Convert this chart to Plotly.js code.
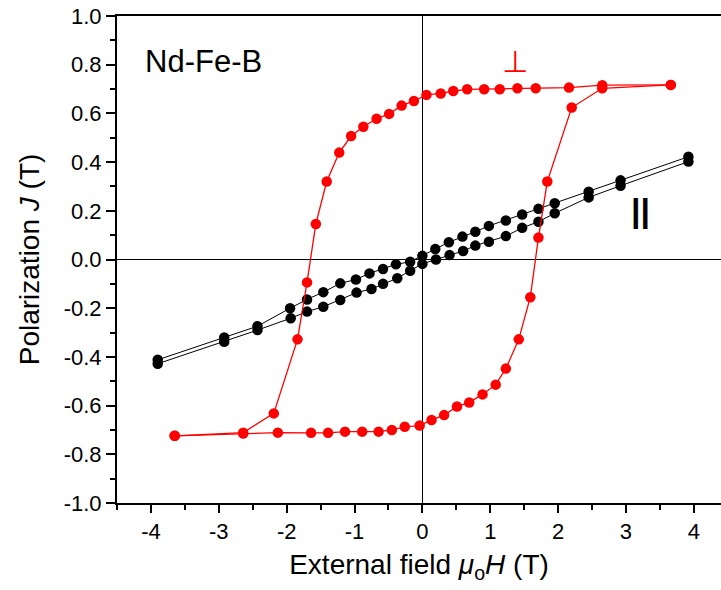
<!DOCTYPE html>
<html>
<head>
<meta charset="utf-8">
<script src="https://cdn.plot.ly/plotly-3.0.1.min.js"></script>
<style>html,body{margin:0;padding:0;background:#fff;}</style>
</head>
<body>
<div id="chart" style="width:721px;height:590px;"></div>
<script>
// Perpendicular (red) loop: descending branch then ascending branch
const perpDownH = [3.66, 2.65, 2.16, 1.67, 1.40, 1.14, 0.91, 0.66, 0.455, 0.27, 0.06, -0.125, -0.306, -0.49, -0.675, -0.87, -1.05, -1.225, -1.41, -1.57, -1.70, -1.84, -2.19, -2.64, -3.65];
const perpDownJ = [0.717, 0.716, 0.706, 0.703, 0.703, 0.699, 0.699, 0.699, 0.692, 0.682, 0.676, 0.651, 0.632, 0.598, 0.578, 0.545, 0.507, 0.439, 0.320, 0.146, -0.094, -0.328, -0.632, -0.711, -0.724];
const perpUpH = [-3.65, -2.64, -2.13, -1.64, -1.39, -1.14, -0.887, -0.645, -0.45, -0.26, -0.04, 0.135, 0.32, 0.51, 0.69, 0.886, 1.08, 1.23, 1.42, 1.59, 1.71, 1.84, 2.20, 2.65, 3.66];
const perpUpJ = [-0.724, -0.715, -0.711, -0.712, -0.712, -0.707, -0.707, -0.707, -0.700, -0.687, -0.682, -0.659, -0.639, -0.604, -0.587, -0.554, -0.514, -0.448, -0.328, -0.155, 0.090, 0.320, 0.624, 0.703, 0.717];

// Parallel (black) loop
const parDownH = [3.92, 2.92, 2.45, 1.95, 1.71, 1.47, 1.23, 0.98, 0.78, 0.59, 0.39, 0.19, 0.0, -0.18, -0.39, -0.58, -0.78, -0.98, -1.21, -1.46, -1.70, -1.95, -2.43, -2.92, -3.90];
const parDownJ = [0.422, 0.325, 0.278, 0.231, 0.208, 0.185, 0.160, 0.138, 0.114, 0.094, 0.071, 0.043, 0.015, -0.009, -0.020, -0.039, -0.057, -0.082, -0.098, -0.134, -0.164, -0.200, -0.274, -0.320, -0.412];
const parUpH = [-3.90, -2.92, -2.43, -1.94, -1.70, -1.46, -1.21, -0.97, -0.75, -0.58, -0.37, -0.18, 0.0, 0.20, 0.40, 0.60, 0.78, 0.98, 1.23, 1.47, 1.71, 1.95, 2.45, 2.92, 3.92];
const parUpJ = [-0.428, -0.338, -0.290, -0.241, -0.214, -0.194, -0.166, -0.136, -0.121, -0.100, -0.077, -0.046, -0.018, 0.000, 0.018, 0.035, 0.057, 0.073, 0.096, 0.130, 0.155, 0.190, 0.255, 0.303, 0.402];

// Tick labels
const xTickVals = [-4, -3, -2, -1, 0, 1, 2, 3, 4];
const xTickText = ["-4", "-3", "-2", "-1", "0", "1", "2", "3", "4"];
const yTickVals = [-1.0, -0.8, -0.6, -0.4, -0.2, 0.0, 0.2, 0.4, 0.6, 0.8, 1.0];
const yTickText = ["-1.0", "-0.8", "-0.6", "-0.4", "-0.2", "0.0", "0.2", "0.4", "0.6", "0.8", "1.0"];

const FONT = "Arial, 'Liberation Sans', sans-serif";
const red = "#ff0000";

function tr(x, y, color, lw, ms) {
  return {
    x: x, y: y, type: "scatter", mode: "lines+markers",
    line: {color: color, width: lw},
    marker: {color: color, size: ms, symbol: "circle"},
    hoverinfo: "skip", cliponaxis: false
  };
}

const data = [
  tr(parDownH, parDownJ, "#000000", 1, 10.5),
  tr(parUpH, parUpJ, "#000000", 1, 10.5),
  tr(perpDownH, perpDownJ, red, 1.3, 10.5),
  tr(perpUpH, perpUpJ, red, 1.3, 10.5)
];

const layout = {
  width: 721, height: 590,
  margin: {l: 117, r: 0, t: 16, b: 87, pad: 0},
  paper_bgcolor: "#ffffff", plot_bgcolor: "#ffffff",
  showlegend: false,
  font: {family: FONT, color: "#000000"},
  xaxis: {
    range: [-4.5, 4.4],
    tickmode: "array", tickvals: xTickVals, ticktext: xTickText,
    ticks: "outside", ticklen: 8, tickwidth: 2, tickcolor: "#000",
    tickfont: {size: 22, family: FONT},
    minor: {dtick: 0.5, tick0: 0, ticks: "outside", ticklen: 5, tickwidth: 2, tickcolor: "#000"},
    showline: true, linewidth: 2, linecolor: "#000", mirror: true,
    showgrid: false,
    zeroline: true, zerolinecolor: "#000", zerolinewidth: 1,
    title: {text: "External field <i>μ</i><sub>o</sub><i>H</i> (T)", font: {size: 28, family: FONT}, standoff: 11},
    automargin: false
  },
  yaxis: {
    range: [-1.0, 1.0],
    tickmode: "array", tickvals: yTickVals, ticktext: yTickText,
    ticks: "outside", ticklen: 9, tickwidth: 2, tickcolor: "#000",
    tickfont: {size: 22, family: FONT},
    minor: {dtick: 0.1, tick0: 0, ticks: "outside", ticklen: 5, tickwidth: 2, tickcolor: "#000"},
    showline: true, linewidth: 2, linecolor: "#000", mirror: false,
    showgrid: false,
    zeroline: true, zerolinecolor: "#000", zerolinewidth: 1,
    title: {text: "Polarization <i>J</i> (T)", font: {size: 28, family: FONT}, standoff: 16},
    automargin: false
  },
  annotations: [
    {x: -3.23, y: 0.815, xref: "x", yref: "y", text: "Nd-Fe-B", showarrow: false,
     font: {size: 31, family: FONT, color: "#000"}},
    {x: 1.36, y: 0.815, xref: "x", yref: "y", text: "⊥", showarrow: false,
     font: {size: 30, family: "'DejaVu Sans', sans-serif", color: red}},
    {x: 3.22, y: 0.205, xref: "x", yref: "y", text: "<b>||</b>", showarrow: false,
     font: {size: 34, family: FONT, color: "#000"}}
  ]
};

Plotly.newPlot("chart", data, layout, {displayModeBar: false, staticPlot: true});
</script>
</body>
</html>
